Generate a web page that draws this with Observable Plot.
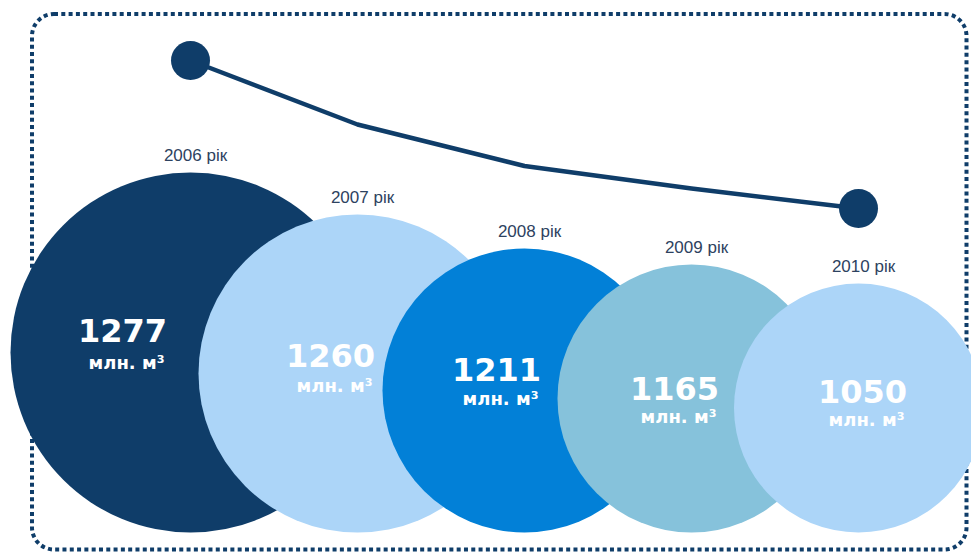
<!DOCTYPE html>
<html>
<head>
<meta charset="utf-8">
<script src="https://cdn.jsdelivr.net/npm/d3@7"></script>
<script src="https://cdn.jsdelivr.net/npm/@observablehq/plot@0.6"></script>
<style>
  html, body { margin: 0; padding: 0; background: #ffffff; }
  #chart svg { display: block; }
</style>
</head>
<body>
<div id="chart"></div>
<script>
// ---- data ----
const years = ["2006", "2007", "2008", "2009", "2010"];
const volumes = [1277, 1260, 1211, 1165, 1050];
const yearSuffix = " рік";
const unitLabel = "млн. м³";

// ---- styles / layout ----
const NAVY = "#0f3d69";
const palette = ["#0f3d69", "#acd5f8", "#0280d7", "#86c2db", "#acd5f8"];
const BASE = 532; // common bottom line of the bubbles (px)
// bubble radius scale (piecewise, as drawn in the infographic)
const rOpts = {type: "linear", zero: false,
  domain: [1050, 1165, 1211, 1260, 1277],
  range: [124.5, 134, 142, 159, 180]};
// trend line vertical scale (piecewise)
const lineOpts = {type: "linear",
  domain: [1050, 1165, 1211, 1260, 1277],
  range: [208, 188, 165.5, 124, 60]};
// per-bubble label nudges (px)
const valueDx = [-68, -27, -28, -17, 4];
const valueDy = [-21, -17, -19.5, -9, -15.5];
const unitDy = [11, 12.5, 8.5, 19, 12.5];

const data = years.map((year, i) => ({year, value: volumes[i]}));
const rScale = Plot.scale({r: rOpts});
const lineScale = Plot.scale({y: lineOpts});

const cy = d => BASE - rScale.apply(d.value);
const ly = d => lineScale.apply(d.value);

const chart = Plot.plot({
  width: 971,
  height: 552,
  margin: 0,
  x: {type: "point", domain: years, range: [190, 858], padding: 0, axis: null},
  y: {type: "identity", axis: null},
  r: rOpts,
  color: {domain: years, range: palette},
  style: {background: "#ffffff", overflow: "hidden"},
  marks: [
    Plot.frame({stroke: NAVY, strokeWidth: 4, strokeDasharray: "4 3.3", rx: 22,
      insetLeft: 31.5, insetTop: 13.5, insetRight: 5, insetBottom: 3}),
    Plot.line(data, {x: "year", y: ly, stroke: NAVY, strokeWidth: 4.5, strokeLinejoin: "round"}),
    Plot.dot([data[0], data[data.length - 1]], {x: "year", y: ly, r: 19.5, fill: NAVY}),
    Plot.dot(data, {x: "year", y: cy, r: "value", fill: "year", sort: null}),
    Plot.text(data, {x: "year", y: d => BASE - 2 * rScale.apply(d.value) - 17, dx: 5,
      text: d => d.year + yearSuffix, fontFamily: "Liberation Sans, Arial, sans-serif",
      fontSize: 17, fill: "#2d4260"}),
    ...data.map((d, i) => Plot.text([d], {x: "year", y: cy, dx: valueDx[i], dy: valueDy[i],
      text: e => String(e.value), fontFamily: "DejaVu Sans, sans-serif", fontWeight: "bold",
      fontSize: 32, fill: "#ffffff"})),
    ...data.map((d, i) => Plot.text([d], {x: "year", y: cy, dx: valueDx[i] + 4, dy: unitDy[i],
      text: () => unitLabel, fontFamily: "DejaVu Sans, sans-serif", fontWeight: "bold",
      fontSize: 18, fill: "#ffffff"}))
  ]
});

document.getElementById("chart").append(chart);
</script>
</body>
</html>
